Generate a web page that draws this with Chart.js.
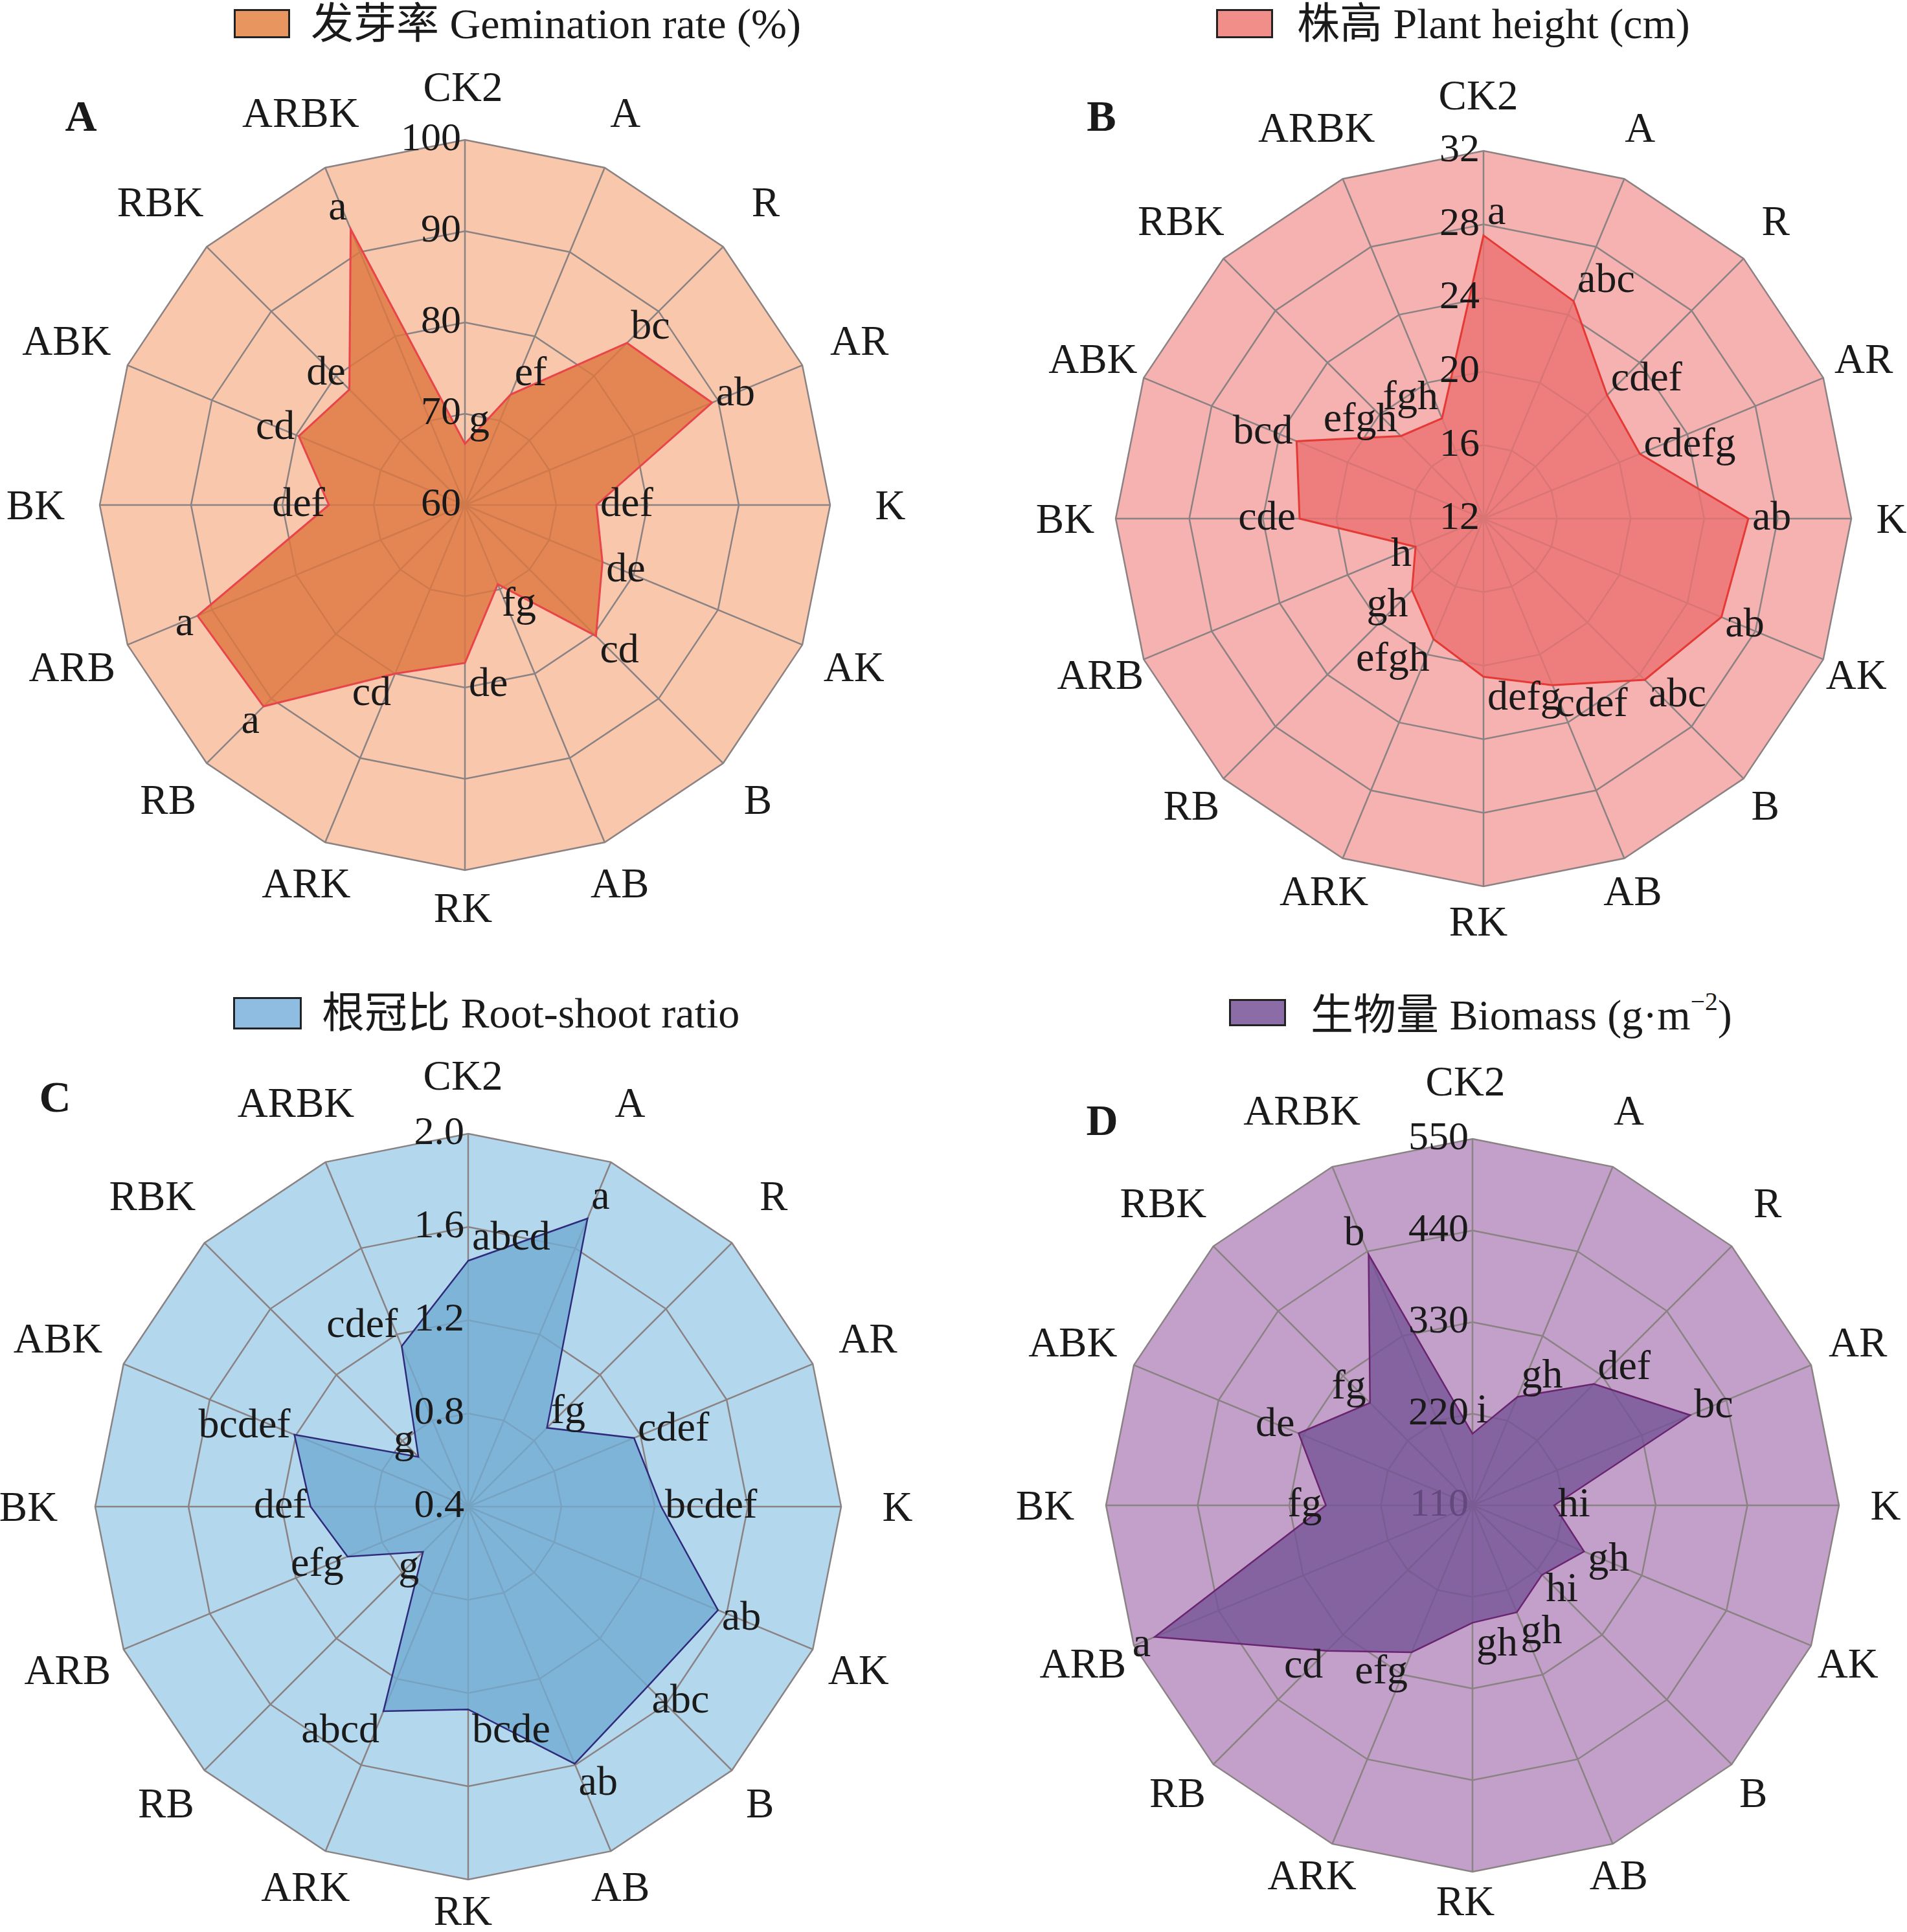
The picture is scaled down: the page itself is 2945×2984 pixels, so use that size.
<!DOCTYPE html>
<html>
<head>
<meta charset="utf-8">
<script src="https://cdn.jsdelivr.net/npm/chart.js@4.4.1/dist/chart.umd.min.js"></script>
<style>
  body { margin: 0; background: #fff; width: 2945px; height: 2984px; position: relative; overflow: hidden;
         font-family: 'Liberation Serif', 'Noto Sans CJK SC', serif; color: #1a1a1a; }
  .panel { position: absolute; }
  .legend { position: absolute; display: flex; align-items: center; font-size: 66px; line-height: 1; white-space: nowrap; }
  .swatch { display: inline-block; box-sizing: border-box; border: 3px solid #222; }
  .legend sup { font-size: 0.6em; vertical-align: 0.75em; }
  .tag { position: absolute; font-weight: bold; font-size: 68px; line-height: 1; transform: translate(-50%, -50%); }
</style>
</head>
<body>

<div class="legend" style="left:361px; top:14px; height:45px">
  <span class="swatch" style="width:87px; height:45px; background:#E8955F; margin-right:32px"></span>
  <span>发芽率 Gemination rate (%)</span>
</div>
<div class="legend" style="left:1878px; top:14px; height:45px">
  <span class="swatch" style="width:88px; height:45px; background:#F28E89; margin-right:37px"></span>
  <span>株高 Plant height (cm)</span>
</div>
<div class="legend" style="left:360px; top:1540px; height:50px">
  <span class="swatch" style="width:106px; height:50px; background:#8EBDE1; margin-right:31px"></span>
  <span>根冠比 Root-shoot ratio</span>
</div>
<div class="legend" style="left:1898px; top:1543px; height:42px">
  <span class="swatch" style="width:88px; height:42px; background:#8C6CA6; margin-right:38px"></span>
  <span>生物量 Biomass (g·m<sup>−2</sup>)</span>
</div>

<div class="tag" style="left:125px; top:179px">A</div>
<div class="tag" style="left:1701px; top:179px">B</div>
<div class="tag" style="left:85px; top:1694px">C</div>
<div class="tag" style="left:1702px; top:1730px">D</div>

<canvas id="chartA" class="panel" style="left:0px; top:60px"></canvas>
<canvas id="chartB" class="panel" style="left:1472px; top:60px"></canvas>
<canvas id="chartC" class="panel" style="left:0px; top:1600px"></canvas>
<canvas id="chartD" class="panel" style="left:1472px; top:1600px"></canvas>

<script>
const categories = ['CK2', 'A', 'R', 'AR', 'K', 'AK', 'B', 'AB', 'RK', 'ARK', 'RB', 'ARB', 'BK', 'ABK', 'RBK', 'ARBK'];

// A: germination rate (%)
const germination = [66.7, 73.1, 85.1, 89.3, 74.4, 76.3, 80.3, 69.4, 77.3, 80.0, 91.2, 91.7, 74.9, 79.7, 77.9, 92.7];
const germinationLetters = ['g', 'ef', 'bc', 'ab', 'def', 'de', 'cd', 'fg', 'de', 'cd', 'a', 'a', 'def', 'cd', 'de', 'a'];
const germinationTicks = [60, 70, 80, 90, 100];

// B: plant height (cm)
const plantHeight = [27.4, 24.8, 21.5, 21.2, 26.4, 26.0, 24.4, 21.8, 20.6, 19.1, 17.5, 16.0, 22.0, 23.0, 18.35, 17.9];
const plantHeightLetters = ['a', 'abc', 'cdef', 'cdefg', 'ab', 'ab', 'abc', 'cdef', 'defg', 'efgh', 'gh', 'h', 'cde', 'bcd', 'efgh', 'fgh'];
const plantHeightTicks = [12, 16, 20, 24, 28, 32];

// C: root-shoot ratio
const rootShoot = [1.455, 1.738, 0.878, 1.17, 1.228, 1.56, 1.49, 1.594, 1.27, 1.35, 0.674, 0.96, 1.076, 1.207, 0.702, 1.145];
const rootShootLetters = ['abcd', 'a', 'fg', 'cdef', 'bcdef', 'ab', 'abc', 'ab', 'bcde', 'abcd', 'g', 'efg', 'def', 'bcdef', 'g', 'cdef'];
const rootShootTicks = [0.4, 0.8, 1.2, 1.6, 2.0];

// D: biomass (g·m-2)
const biomass = [196, 251, 316, 393, 208, 255, 228, 249, 251, 301, 357, 523, 286, 336, 284, 436];
const biomassLetters = ['i', 'gh', 'def', 'bc', 'hi', 'gh', 'hi', 'gh', 'gh', 'efg', 'cd', 'a', 'fg', 'de', 'fg', 'b'];
const biomassTicks = [110, 220, 330, 440, 550];

const FONT = "'Liberation Serif', 'Noto Sans CJK SC', serif";
const CAP = 43; // cap height of a 65px label

function drawTickLabels(chart, o, under) {
  const s = chart.scales.r, ctx = chart.ctx;
  ctx.save();
  ctx.font = '62px ' + FONT;
  ctx.fillStyle = '#1a1a1a';
  ctx.textAlign = 'right';
  ctx.textBaseline = 'middle';
  o.ticks.forEach((v, i) => {
    if ((i < o.ticksUnder) !== under) return;
    const d = s.getDistanceFromCenterForValue(v);
    ctx.fillText(v.toFixed(o.decimals), s.xCenter - 6, s.yCenter - d);
  });
  ctx.restore();
}

const radarText = {
  id: 'radarText',
  beforeDatasetsDraw(chart, args, o) {
    drawTickLabels(chart, o, true);
  },
  afterDatasetsDraw(chart, args, o) {
    drawTickLabels(chart, o, false);
    const s = chart.scales.r, ctx = chart.ctx;
    const n = categories.length;
    const ring = o.ring;
    ctx.save();
    ctx.fillStyle = '#1a1a1a';

    // category names centred on their spoke
    ctx.font = '65px ' + FONT;
    ctx.textBaseline = 'alphabetic';
    ctx.textAlign = 'center';
    categories.forEach((c, i) => {
      const ang = i * 2 * Math.PI / n;
      const sin = Math.sin(ang), cos = Math.cos(ang);
      const rad = s.drawingArea + ring.a + ring.b * Math.abs(sin) + ring.c * cos;
      const px = s.xCenter + ring.dx + rad * sin;
      const py = s.yCenter - rad * cos;
      ctx.fillText(c, px, py + CAP / 2);
    });

    // significance letters next to each vertex
    ctx.font = '64px ' + FONT;
    ctx.textBaseline = 'middle';
    const meta = chart.getDatasetMeta(0);
    meta.data.forEach((pt, i) => {
      const ang = i * 2 * Math.PI / n;
      const left = Math.sin(ang) < -0.05;
      ctx.textAlign = left ? 'right' : 'left';
      ctx.fillText(o.letters[i], pt.x + (left ? -6 : 6), pt.y - Math.cos(ang) * 34);
    });
    ctx.restore();
  }
};

function makeRadar(id, box, values, letters, ticks, decimals, colors, ticksUnder) {
  const canvas = document.getElementById(id);
  canvas.width = box.w;
  canvas.height = box.h;
  const cx = box.cx - box.left, cy = box.cy - box.top;
  return new Chart(canvas, {
    type: 'radar',
    data: {
      labels: categories,
      datasets: [{
        data: values,
        backgroundColor: colors.fill,
        borderColor: colors.line,
        borderWidth: colors.lineWidth,
        pointRadius: 0,
        fill: true
      }]
    },
    plugins: [radarText],
    options: {
      responsive: false,
      devicePixelRatio: 1,
      animation: false,
      layout: {
        padding: {
          left: cx - box.r,
          right: box.w - cx - box.r,
          top: cy - box.r,
          bottom: box.h - cy - box.r
        }
      },
      plugins: {
        legend: { display: false },
        tooltip: { enabled: false },
        radarText: { letters: letters, ticks: ticks, decimals: decimals, ticksUnder: ticksUnder, ring: box.ring }
      },
      scales: {
        r: {
          min: ticks[0],
          max: ticks[ticks.length - 1],
          afterBuildTicks: s => { s.ticks = ticks.map(v => ({ value: v })); },
          backgroundColor: colors.bg,
          grid: { color: '#8b8283', lineWidth: 2.5 },
          angleLines: { color: '#8b8283', lineWidth: 2.5 },
          pointLabels: { display: false },
          ticks: { display: false }
        }
      }
    }
  });
}

makeRadar('chartA',
  { left: 0, top: 60, w: 1472, h: 1440, cx: 718, cy: 780, r: 564, ring: { a: 70, b: 26, c: 12, dx: -3 } },
  germination, germinationLetters, germinationTicks, 0,
  { bg: '#F9C8AC', fill: 'rgba(222,120,64,0.82)', line: '#E8444A', lineWidth: 3 }, 0);

makeRadar('chartB',
  { left: 1472, top: 60, w: 1473, h: 1440, cx: 2291, cy: 801, r: 568, ring: { a: 70, b: 0, c: 16, dx: -8 } },
  plantHeight, plantHeightLetters, plantHeightTicks, 0,
  { bg: '#F6B1B1', fill: 'rgba(236,114,112,0.8)', line: '#E53935', lineWidth: 3 }, 0);

makeRadar('chartC',
  { left: 0, top: 1600, w: 1472, h: 1384, cx: 723, cy: 2327, r: 576, ring: { a: 69, b: 26, c: 21, dx: -8 } },
  rootShoot, rootShootLetters, rootShootTicks, 1,
  { bg: '#B3D8ED', fill: 'rgba(114,171,211,0.8)', line: '#2F2A7C', lineWidth: 2.5 }, 0);

makeRadar('chartD',
  { left: 1472, top: 1600, w: 1473, h: 1384, cx: 2274, cy: 2325, r: 566, ring: { a: 67, b: 16, c: 22, dx: -11 } },
  biomass, biomassLetters, biomassTicks, 0,
  { bg: '#C2A0C9', fill: 'rgba(116,84,150,0.8)', line: '#6A2470', lineWidth: 2.5 }, 1);
</script>
</body>
</html>
